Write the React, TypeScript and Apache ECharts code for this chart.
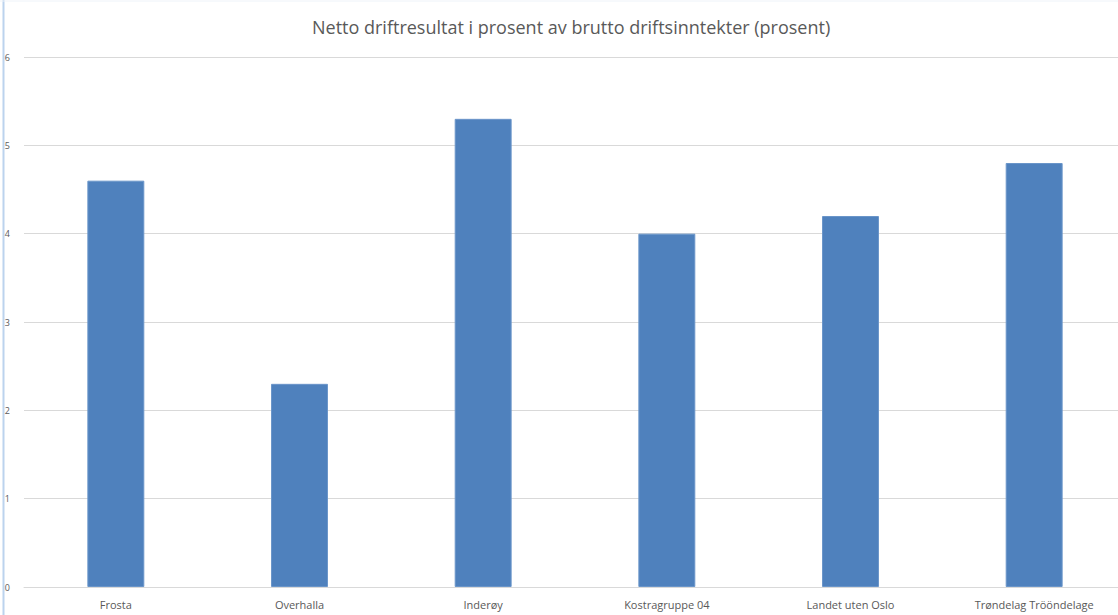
import React, { useEffect, useRef } from "react";
import * as echarts from "echarts";

const categories = ["Frosta", "Overhalla", "Inderøy", "Kostragruppe 04", "Landet uten Oslo", "Trøndelag Trööndelage"];
const values = [4.6, 2.3, 5.3, 4.0, 4.2, 4.8];
const titleText = "Netto driftresultat i prosent av brutto driftsinntekter (prosent)";

export default function App() {
  const ref = useRef<HTMLDivElement>(null);
  useEffect(() => {
    if (!ref.current) return;
    const chart = echarts.init(ref.current, null, { renderer: "svg" });
    chart.setOption({
      animation: false,
      backgroundColor: "#ffffff",
      title: {
        text: titleText,
        left: 307,
        top: 13,
        textStyle: { fontFamily: "Open Sans", fontSize: 18, fontWeight: "normal", color: "#595959" },
      },
      grid: { left: 24, right: 0, top: 57, bottom: 28 },
      xAxis: {
        type: "category",
        data: categories,
        axisLine: { show: true, lineStyle: { color: "#d9d9d9" } },
        axisTick: { show: false },
        axisLabel: { color: "#595959", fontFamily: "Open Sans", fontSize: 11, margin: 12, interval: 0 },
      },
      yAxis: {
        type: "value",
        min: 0,
        max: 6,
        interval: 1,
        axisLine: { show: false },
        axisTick: { show: false },
        splitLine: { lineStyle: { color: "#d9d9d9" } },
        axisLabel: { color: "#595959", fontFamily: "Open Sans", fontSize: 9, margin: 14 },
      },
      series: [
        {
          type: "bar",
          data: values,
          barWidth: "31%",
          itemStyle: { color: "#4f81bd", borderColor: "#6a95c9", borderWidth: 1 },
        },
      ],
      graphic: [
        { type: "line", shape: { x1: 3.5, y1: 0, x2: 3.5, y2: 615 }, style: { stroke: "#bcd3ee", lineWidth: 2 } },
        { type: "line", shape: { x1: 0, y1: 1, x2: 1118, y2: 1 }, style: { stroke: "#eef3f9", lineWidth: 1 } },
      ],
    });
    return () => chart.dispose();
  }, []);
  return <div ref={ref} style={{ position: "fixed", left: 0, top: 0, width: 1126, height: 615 }} />;
}
